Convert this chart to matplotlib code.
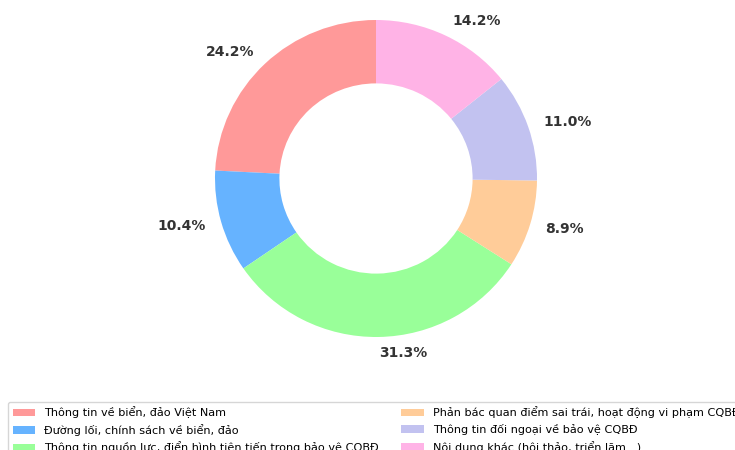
import matplotlib
matplotlib.use("Agg")
import matplotlib.pyplot as plt

categories = [
    "Thông tin về biển, đảo Việt Nam",
    "Đường lối, chính sách về biển, đảo",
    "Thông tin nguồn lực, điển hình tiên tiến trong bảo vệ CQBĐ",
    "Phản bác quan điểm sai trái, hoạt động vi phạm CQBĐ",
    "Thông tin đối ngoại về bảo vệ CQBĐ",
    "Nội dung khác (hội thảo, triển lãm...)",
]
values = [24.2, 10.4, 31.3, 8.9, 11.0, 14.2]
colors = ["#ff9999", "#66b3ff", "#99ff99", "#ffcc99", "#c2c2f0", "#ffb3e6"]

W, H = 735, 450
fig = plt.figure(figsize=(W / 100, H / 100), dpi=100)
cx, cy, rx, ry = 376, 178.5, 161, 158.5
aw, ah = 2.5 * rx, 2.5 * ry
ax = fig.add_axes([(cx - aw / 2) / W, (H - cy - ah / 2) / H, aw / W, ah / H])

labels = [f"{v:.1f}%" for v in values]
wedges, texts = ax.pie(
    values, colors=colors, startangle=90, counterclock=True,
    labels=labels, labeldistance=1.1,
    wedgeprops=dict(width=0.4, edgecolor="none"),
    textprops=dict(fontsize=10, fontweight="bold", color="#333333"),
)
ax.set_xlim(-1.25, 1.25)
ax.set_ylim(-1.25, 1.25)
ax.set_aspect("auto")

fig.legend(wedges, categories, loc="upper left",
           bbox_to_anchor=(8 / W, 1 - 402 / H), ncol=2,
           borderaxespad=0, fontsize=8.1, frameon=True)

fig.savefig("out.png", dpi=100)
